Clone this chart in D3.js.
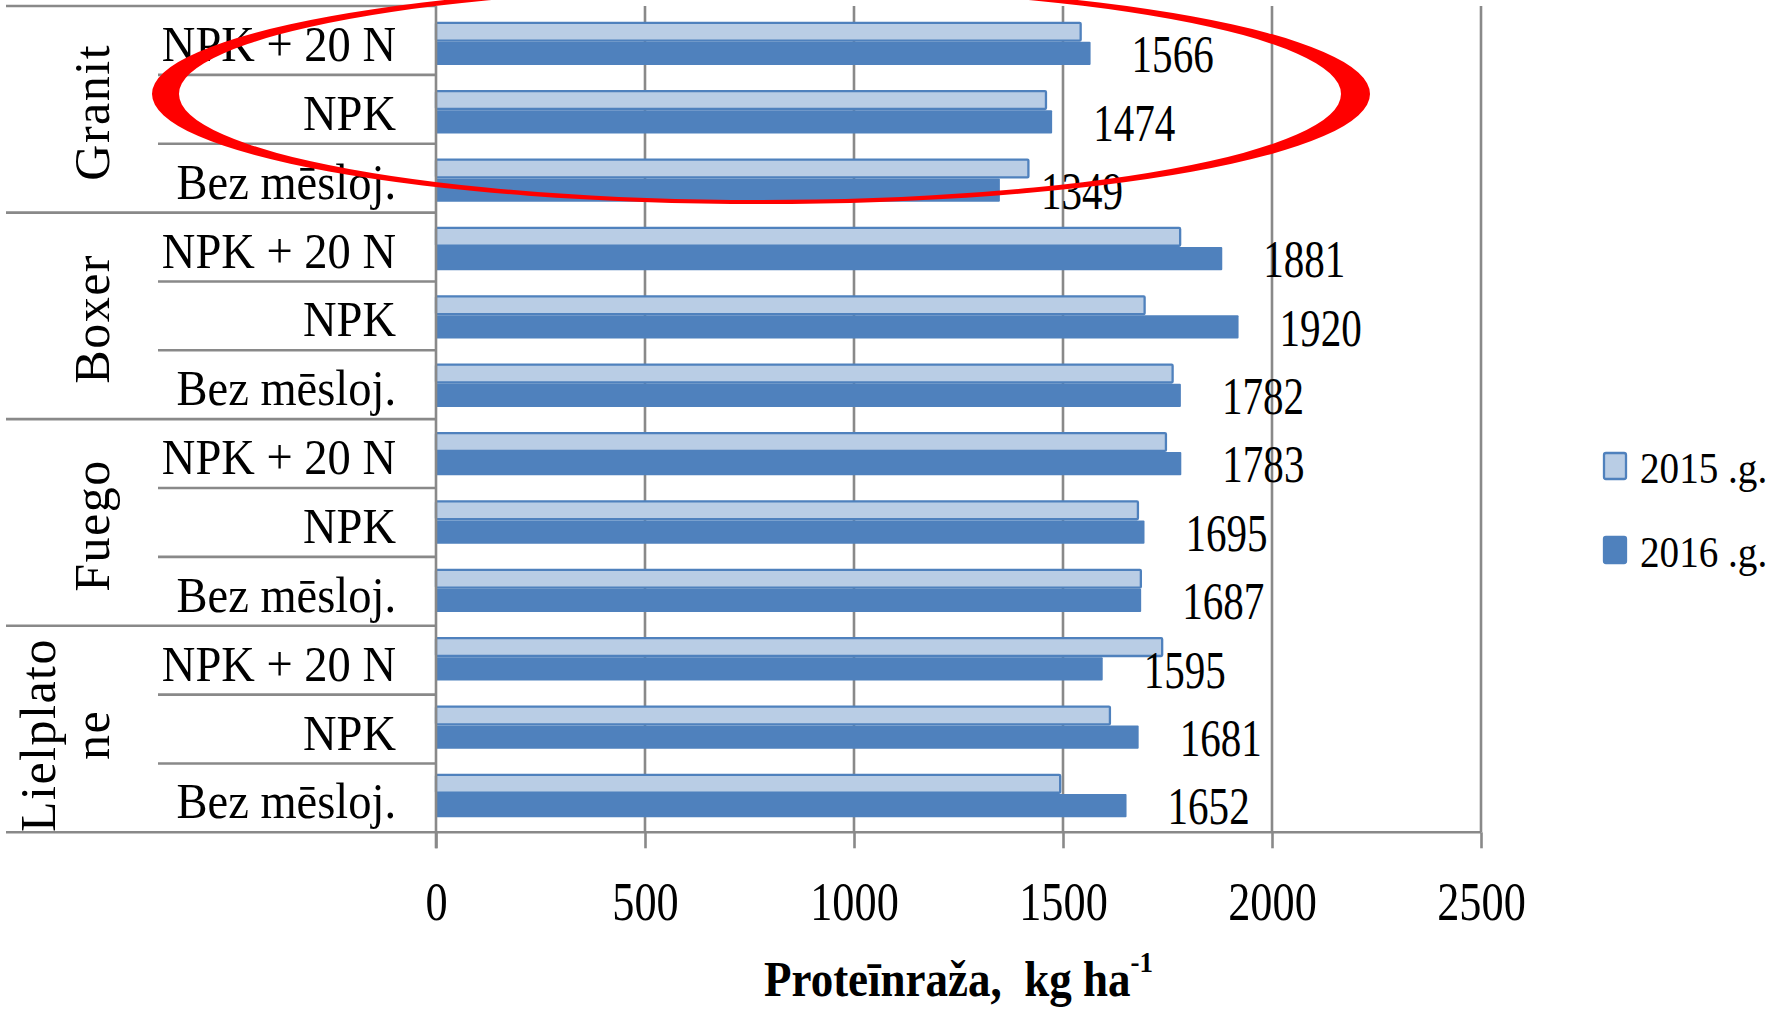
<!DOCTYPE html>
<html>
<head>
<meta charset="utf-8">
<script src="https://cdn.jsdelivr.net/npm/d3@7"></script>
<style>
  html, body { margin: 0; padding: 0; background: #ffffff; }
  svg { display: block; }
  text { font-family: "Liberation Serif", "Times New Roman", serif; fill: #000; }
</style>
</head>
<body>
<svg id="chart" width="1777" height="1009"></svg>
<script>
// ---------------- data ----------------
const groups = ["Granit", "Boxer", "Fuego", "Lielplatone"];
const groupLabelLines = [["Granit"], ["Boxer"], ["Fuego"], ["Lielplato", "ne"]];
const treatments = ["NPK + 20 N", "NPK", "Bez mēsloj."];
const values2015 = [1545, 1462, 1420, 1783, 1698, 1765, 1749, 1682, 1689, 1740, 1615, 1496];
const values2016 = [1566, 1474, 1349, 1881, 1920, 1782, 1783, 1695, 1687, 1595, 1681, 1652];
const seriesNames = ["2015 .g.", "2016 .g."];
const xTicks = [0, 500, 1000, 1500, 2000, 2500];
const axisTitleMain = "Proteīnraža,  kg ha";
const axisTitleSup = "-1";

// ---------------- layout ----------------
const W = 1777, H = 1009;
const plot = { left: 436, right: 1481, top: 6, bottom: 832.3 };
const colLight = "#b9cde5", colDark = "#4f81bd", gridCol = "#898989";
const FONT = "'Liberation Serif', 'Times New Roman', serif";

const rows = [];
groups.forEach((g, gi) => treatments.forEach((t, ti) => rows.push({
  key: g + "|" + t, group: g, treatment: t, gi, ti,
  v2015: values2015[gi * 3 + ti], v2016: values2016[gi * 3 + ti]
})));

const svg = d3.select("#chart");
svg.append("rect").attr("width", W).attr("height", H).attr("fill", "#fff");

const x = d3.scaleLinear().domain([0, 2500]).range([plot.left, plot.right]);
// table rows (label area) and bar rows
const yt = d3.scaleBand().domain(rows.map(r => r.key)).range([plot.top, plot.bottom]);
const yb = d3.scaleBand().domain(rows.map(r => r.key)).range([plot.top + 3.5, plot.bottom - 2.3]);
// inner series band around row centre
const inner = d3.scaleBand().domain(["2015", "2016"]).range([-22, 21.4]);

// helper: horizontally compressed text
function ctext(parent, xx, yy, str, size, sx, anchor, weight) {
  const g = parent.append("g").attr("transform", `translate(${xx},${yy}) scale(${sx},1)`);
  const t = g.append("text").attr("x", 0).attr("y", 0)
    .attr("font-size", size).attr("text-anchor", anchor || "start")
    .attr("font-weight", weight || "normal").style("white-space", "pre").text(str);
  return t;
}

// ---------------- gridlines ----------------
svg.append("g").selectAll("line").data(xTicks.filter(d => d > 0)).join("line")
  .attr("x1", d => x(d)).attr("x2", d => x(d))
  .attr("y1", plot.top).attr("y2", plot.bottom)
  .attr("stroke", gridCol).attr("stroke-width", 2.6);

// ---------------- bars ----------------
const barsG = svg.append("g");
rows.forEach(r => {
  const c = yb(r.key) + yb.bandwidth() / 2;
  const sw = 2.3;
  // 2015 light bar with dark outline
  barsG.append("rect")
    .attr("x", x(0))
    .attr("y", c + inner("2015") + sw / 2)
    .attr("width", Math.max(0, x(r.v2015) - x(0) - sw / 2))
    .attr("height", inner.bandwidth() - 1.6 - sw)
    .attr("fill", colLight).attr("stroke", colDark).attr("stroke-width", sw)
    .attr("rx", 1);
  // 2016 dark bar
  barsG.append("rect")
    .attr("x", x(0))
    .attr("y", c + inner("2016") - 1.6)
    .attr("width", x(r.v2016) - x(0))
    .attr("height", inner.bandwidth() + 1.6)
    .attr("fill", colDark).attr("rx", 1);
  // data label (2016)
  ctext(barsG, x(r.v2016) + 41, c + inner("2016") + inner.bandwidth() / 2 + 18,
        String(r.v2016), 52, 0.79, "start");
});

// ---------------- table lines ----------------
const tableG = svg.append("g").attr("stroke", gridCol).attr("stroke-width", 2.6);
const boundaries = rows.map(r => yt(r.key)).concat([plot.bottom]);
boundaries.forEach((yy, i) => {
  let x1;
  if (i % 3 === 0) x1 = 6; else x1 = 158;
  const x2 = (i === boundaries.length - 1) ? plot.right : plot.left;
  tableG.append("line").attr("x1", x1).attr("x2", x2).attr("y1", yy).attr("y2", yy);
});

// ---------------- x axis ----------------
const axisG = svg.append("g").attr("transform", `translate(0,${plot.bottom})`)
  .call(d3.axisBottom(x).tickValues(xTicks).tickSize(16).tickFormat(d3.format("d")));
axisG.select(".domain").remove();
axisG.selectAll(".tick line").attr("stroke", gridCol).attr("stroke-width", 2.6);
axisG.selectAll(".tick text")
  .attr("y", 87.7).attr("dy", 0)
  .attr("font-size", 54).attr("font-family", FONT).attr("fill", "#000")
  .attr("transform", "scale(0.82,1)");
// vertical axis line
svg.append("line").attr("x1", x(0)).attr("x2", x(0))
  .attr("y1", plot.top).attr("y2", plot.bottom + 16)
  .attr("stroke", gridCol).attr("stroke-width", 2.6);

// ---------------- category labels ----------------
const labG = svg.append("g");
rows.forEach(r => {
  ctext(labG, 396, yt(r.key) + 55, r.treatment, 50, 0.93, "end");
});

// group labels (rotated)
const groupG = svg.append("g");
groups.forEach((g, gi) => {
  const first = rows[gi * 3].key, last = rows[gi * 3 + 2].key;
  const cy = (yt(first) + yt(last) + yt.bandwidth()) / 2;
  const lines = groupLabelLines[gi];
  const lineGap = 54;
  const adj = lines.length > 1 ? 6 : 3;
  lines.forEach((ln, li) => {
    const bx = 109 - (lines.length - 1 - li) * lineGap;
    groupG.append("text")
      .attr("transform", `translate(${bx},${cy + adj}) rotate(-90)`)
      .attr("text-anchor", "middle").attr("font-size", 50)
      .attr("letter-spacing", 1.5)
      .text(ln);
  });
});

// ---------------- axis title ----------------
const titleG = svg.append("g").attr("transform", `translate(${(plot.left + plot.right) / 2},996) scale(0.9,1)`);
const tt = titleG.append("text").attr("text-anchor", "middle").attr("font-size", 50)
  .attr("font-weight", "bold").style("white-space", "pre");
tt.append("tspan").text(axisTitleMain);
tt.append("tspan").attr("font-size", 30).attr("dy", -24).text(axisTitleSup);

// ---------------- legend ----------------
const legG = svg.append("g");
const legendItems = [
  { name: seriesNames[0], fill: colLight, stroke: colDark, cy: 466 },
  { name: seriesNames[1], fill: colDark, stroke: colDark, cy: 550 }
];
legendItems.forEach((d, i) => {
  legG.append("rect").attr("x", 1604).attr("y", d.cy - 13)
    .attr("width", 22).attr("height", 26).attr("rx", 2)
    .attr("fill", d.fill).attr("stroke", d.stroke).attr("stroke-width", 2.3);
  ctext(legG, 1640, d.cy + 17, d.name, 45, 0.87, "start");
});

// ---------------- red hand-drawn ellipse annotation ----------------
const ann = { cxO: 761, cyO: 94, rxO: 609, ryO: 110, cxI: 760, cyI: 94, rxI: 581, ryI: 106 };
function ellipsePath(cx, cy, rx, ry) {
  return `M${cx - rx},${cy} A${rx},${ry} 0 1,0 ${cx + rx},${cy} A${rx},${ry} 0 1,0 ${cx - rx},${cy} Z`;
}
svg.append("path")
  .attr("d", ellipsePath(ann.cxO, ann.cyO, ann.rxO, ann.ryO) + " " + ellipsePath(ann.cxI, ann.cyI, ann.rxI, ann.ryI))
  .attr("fill", "#ff0000").attr("fill-rule", "evenodd");
</script>
</body>
</html>
